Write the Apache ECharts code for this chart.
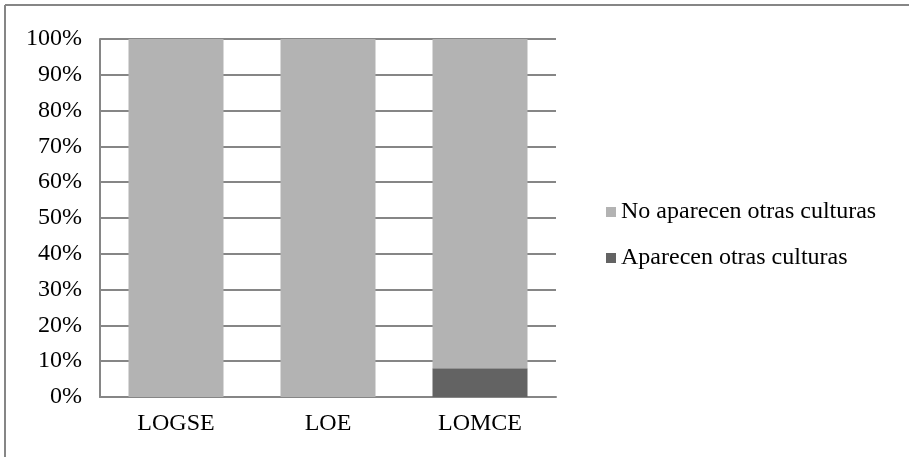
<!DOCTYPE html>
<html>
<head>
<meta charset="utf-8">
<script src="https://cdn.jsdelivr.net/npm/echarts@6/dist/echarts.min.js"></script>
<style>
  html, body { margin: 0; padding: 0; background: #fff; }
  #chart { width: 909px; height: 457px; }
</style>
</head>
<body>
<div id="chart"></div>
<script>
// categories and percentages
var categories = ["LOGSE", "LOE", "LOMCE"];
var aparecen = [0, 0, 8];
var noAparecen = [100, 100, 92];
var yTicks = [0, 10, 20, 30, 40, 50, 60, 70, 80, 90, 100];

var serif = "'Liberation Serif', 'DejaVu Serif', serif";

var myChart = echarts.init(document.getElementById("chart"));

var option = {
  animation: false,
  backgroundColor: "#fff",
  grid: {
    left: 100,
    right: 353,
    top: 39,
    bottom: 60
  },
  legend: {
    orient: "vertical",
    left: 601,
    top: 195,
    itemWidth: 10,
    itemHeight: 10,
    itemGap: 22,
    icon: "rect",
    data: ["No aparecen otras culturas", "Aparecen otras culturas"],
    textStyle: { fontFamily: serif, fontSize: 24, color: "#000" }
  },
  xAxis: {
    type: "category",
    data: categories,
    axisLine: { lineStyle: { color: "#868686", width: 2 } },
    axisTick: { show: false },
    axisLabel: { fontFamily: serif, fontSize: 24, color: "#000", margin: 15 }
  },
  yAxis: {
    type: "value",
    min: yTicks[0],
    max: yTicks[yTicks.length - 1],
    interval: 10,
    axisLine: { show: true, lineStyle: { color: "#868686", width: 2 } },
    axisTick: { show: false },
    splitLine: { lineStyle: { color: "#868686", width: 2 } },
    axisLabel: {
      fontFamily: serif,
      fontSize: 24,
      color: "#000",
      margin: 18,
      formatter: function (v) { return v + "%"; }
    }
  },
  graphic: [
    { type: "line", shape: { x1: 5, y1: 5, x2: 909, y2: 5 }, style: { stroke: "#868686", lineWidth: 2 } },
    { type: "line", shape: { x1: 5, y1: 5, x2: 5, y2: 457 }, style: { stroke: "#868686", lineWidth: 2 } }
  ],
  series: [
    {
      name: "Aparecen otras culturas",
      type: "bar",
      stack: "total",
      barWidth: 95,
      itemStyle: { color: "#636363" },
      data: aparecen
    },
    {
      name: "No aparecen otras culturas",
      type: "bar",
      stack: "total",
      barWidth: 95,
      itemStyle: { color: "#b3b3b3" },
      data: noAparecen
    }
  ]
};

myChart.setOption(option);
</script>
</body>
</html>
